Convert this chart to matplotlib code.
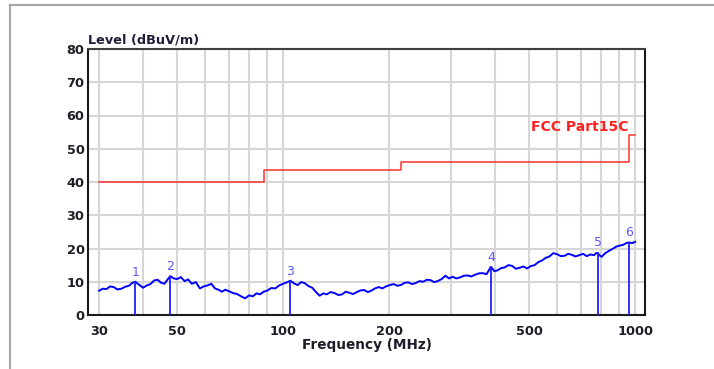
import matplotlib
matplotlib.use("Agg")
import matplotlib.pyplot as plt
from matplotlib.lines import Line2D
from matplotlib.ticker import FixedLocator, NullFormatter, NullLocator

plt.rcParams['font.family'] = ['DejaVu Sans']

# Measured emission trace (MHz, dBuV/m)
freq_mhz = [30, 30.7, 31.5, 32.2, 33, 33.8, 34.7, 35.6, 36.5, 37.2, 38, 39, 40, 41,
            42, 43, 44, 45, 46, 46.9, 47.8, 48.9, 50, 51.2, 52.5, 53.7, 55, 56.5,
            58, 59.5, 61, 62.5, 64, 65.5, 67, 68.5, 70, 72, 74, 76, 78, 80, 82, 84,
            86, 88, 90, 92.5, 95, 97.5, 100, 102.4, 104.8, 107.4, 110, 112.5, 115,
            118, 121, 124, 127, 130, 133, 136.5, 140, 143.5, 147, 150.5, 154, 158,
            162, 166, 170, 174, 178, 182.5, 187, 191.5, 196, 201, 206, 211, 216,
            221.5, 227, 232.5, 238, 244, 250, 256, 262, 268.5, 275, 282, 289, 296,
            303, 310.5, 318, 326, 334, 342.5, 351, 359.5, 368, 378.5, 389.5, 398,
            406, 416, 426, 436.5, 447, 458.5, 470, 481.5, 493, 505.5, 518, 531,
            544, 557.5, 571, 585.5, 600, 615, 630, 645.5, 661, 677.5, 694, 711.5,
            729, 747, 765, 774.5, 784, 793.5, 803, 823, 843, 864, 885, 907, 929,
            946, 963, 981, 1000]
level_db = [7.3, 7.9, 7.8, 8.6, 8.4, 7.7, 7.9, 8.5, 8.8, 9.6, 10.0, 9.1, 8.2, 8.9,
            9.3, 10.4, 10.6, 9.7, 9.4, 10.6, 11.7, 11.0, 10.8, 11.4, 10.2, 10.7,
            9.4, 9.9, 8.0, 8.6, 8.9, 9.4, 8.0, 7.6, 7.0, 7.6, 7.2, 6.6, 6.3, 5.6,
            5.0, 5.9, 5.6, 6.5, 6.2, 7.0, 7.3, 8.1, 8.0, 8.9, 9.4, 9.8, 10.3, 9.5,
            9.0, 9.9, 9.6, 8.7, 8.2, 6.9, 5.8, 6.5, 6.2, 6.9, 6.6, 6.0, 6.2, 7.0,
            6.7, 6.3, 6.9, 7.4, 7.5, 6.9, 7.3, 8.0, 8.4, 8.0, 8.6, 9.0, 9.3, 8.8,
            9.0, 9.7, 9.8, 9.3, 9.6, 10.2, 10.0, 10.6, 10.5, 9.9, 10.2, 10.8, 11.8,
            11.0, 11.5, 11.0, 11.3, 11.8, 11.9, 11.6, 12.1, 12.5, 12.6, 12.3, 14.5,
            13.2, 13.4, 14.1, 14.3, 15.0, 14.8, 13.9, 14.2, 14.6, 14.0, 14.7, 15.0,
            15.9, 16.4, 17.2, 17.6, 18.6, 18.3, 17.7, 17.8, 18.4, 18.1, 17.6, 18.0,
            18.4, 17.7, 18.2, 18.0, 18.6, 18.5, 17.9, 17.5, 18.6, 19.3, 19.9, 20.6,
            20.9, 21.2, 21.7, 21.8, 21.6, 22.0]

# FCC Part 15C limit line (step edges in MHz, dBuV/m)
limit_freq = [30, 88, 88, 216, 216, 960, 960, 1000]
limit_db = [40, 40, 43.5, 43.5, 46, 46, 54, 54]

# Peak markers
marker_ids = ['1', '2', '3', '4', '5', '6']
marker_freq = [38.0, 47.8, 104.8, 389.5, 784, 963]
marker_db = [10.0, 11.7, 10.3, 14.5, 19.0, 22.0]

x_ticks = [30, 50, 100, 200, 500, 1000]
x_grid = [30, 40, 50, 60, 70, 80, 90, 100, 200, 300, 400, 500, 600, 700, 800, 900, 1000]
y_ticks = [0, 10, 20, 30, 40, 50, 60, 70, 80]

fig = plt.figure(figsize=(7.14, 3.69), dpi=100)
ax = fig.add_axes([88 / 714, 1 - 315 / 369, (645 - 88) / 714, (315 - 49) / 369])

ax.set_xscale('log')
ax.set_xlim(27.9, 1067)
ax.set_ylim(0, 80)

for f in x_grid:
    ax.axvline(f, color='#d6d6d6', lw=1.5, zorder=0)
for v in y_ticks[1:]:
    ax.axhline(v, color='#d6d6d6', lw=1.5, zorder=0)

ax.plot(limit_freq, limit_db, color='#ff3030', lw=1.1, zorder=2)
ax.text(958, 54.3, 'FCC Part15C', color='#ff2020', fontsize=10, fontweight='bold',
        ha='right', va='bottom', zorder=3)

ax.plot(freq_mhz, level_db, color='#0000ff', lw=1.4, zorder=3)

for lab, f, v in zip(marker_ids, marker_freq, marker_db):
    ax.vlines(f, 0, v, color='#2020ff', lw=1.3, zorder=4)
    ax.annotate(lab, (f, v), xytext=(0, 2.0), textcoords='offset points',
                ha='center', va='bottom', color='#5a5aff', fontsize=9, zorder=5)

ax.xaxis.set_major_locator(FixedLocator(x_ticks))
ax.xaxis.set_minor_locator(NullLocator())
ax.xaxis.set_minor_formatter(NullFormatter())
ax.set_xticklabels([str(t) for t in x_ticks])
ax.set_yticks(y_ticks)
ax.tick_params(axis='both', length=0, labelsize=9.3, labelcolor='#1e1e28')
ax.tick_params(axis='x', pad=7.5)
ax.tick_params(axis='y', pad=2.5)
for lbl in ax.get_xticklabels() + ax.get_yticklabels():
    lbl.set_fontweight('bold')

for side in ['left', 'bottom', 'top', 'right']:
    ax.spines[side].set_color('#1a1a1a')
    ax.spines[side].set_linewidth(1.5)
ax.spines['top'].set_color('#404040')

ax.set_xlabel('Frequency (MHz)', fontsize=9.8, fontweight='bold', color='#1e1e28', labelpad=0)
ax.text(0, 1.008, 'Level (dBuV/m)', transform=ax.transAxes, fontsize=9.3,
        fontweight='bold', color='#1e1e3a', ha='left', va='bottom')

# Frame lines around the chart panel
fig.add_artist(Line2D([10 / 714, 1], [1 - 5 / 369, 1 - 5 / 369], transform=fig.transFigure,
                      color='#a8a8a8', lw=1.6))
fig.add_artist(Line2D([10 / 714, 10 / 714], [0, 1 - 5 / 369], transform=fig.transFigure,
                      color='#a8a8a8', lw=1.6))

fig.savefig('out.png', dpi=100)
